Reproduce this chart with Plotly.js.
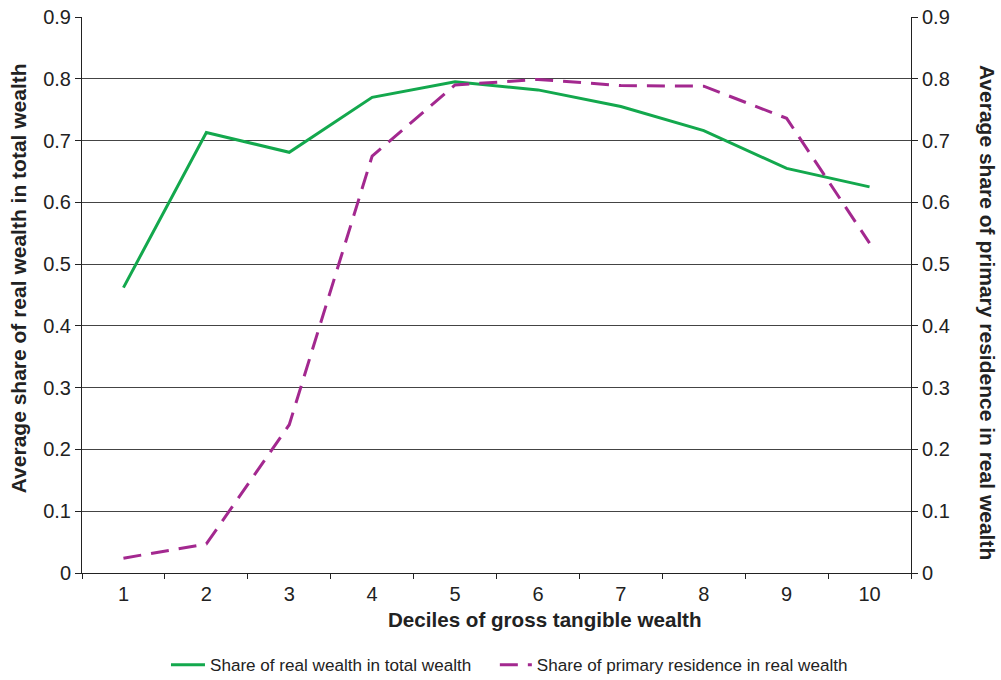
<!DOCTYPE html>
<html>
<head>
<meta charset="utf-8">
<script src="https://cdn.plot.ly/plotly-3.0.1.min.js"></script>
<style>html,body{margin:0;padding:0;background:#fff;}#chart{width:1001px;height:680px;}</style>
</head>
<body>
<div id="chart"></div>
<script>
const deciles = ["1","2","3","4","5","6","7","8","9","10"];
const realShare = [0.462, 0.713, 0.681, 0.770, 0.795, 0.782, 0.755, 0.716, 0.655, 0.625];
const residenceShare = [0.024, 0.047, 0.240, 0.675, 0.790, 0.799, 0.789, 0.788, 0.736, 0.534];
const yTicks = [0, 0.1, 0.2, 0.3, 0.4, 0.5, 0.6, 0.7, 0.8, 0.9];
const yTickText = ["0", "0.1", "0.2", "0.3", "0.4", "0.5", "0.6", "0.7", "0.8", "0.9"];

const font = "Liberation Sans, Arial, sans-serif";
const traces = [
  {x: deciles, y: realShare, type: "scatter", mode: "lines", name: "Share of real wealth in total wealth",
   line: {color: "#13a84d", width: 3}, legend: "legend"},
  {x: deciles, y: residenceShare, type: "scatter", mode: "lines", name: "Share of primary residence in real wealth",
   yaxis: "y2", line: {color: "#a3288f", width: 3, dash: "18px,10px"}, legend: "legend2"}
];
const titleFont = {size: 21, family: font, color: "#222"};
const legendFont = {size: 17.1, family: font, color: "#222"};
const layout = {
  width: 1001, height: 680,
  margin: {l: 82, r: 90, t: 17, b: 107, autoexpand: false},
  paper_bgcolor: "#fff", plot_bgcolor: "#fff",
  font: {family: font, color: "#222", size: 20},
  showlegend: true,
  legend: {orientation: "h", x: 0.1013, xref: "paper", xanchor: "left", yref: "container", y: 0.022, yanchor: "middle",
           font: legendFont, itemwidth: 34},
  legend2: {orientation: "h", x: 0.498, xref: "paper", xanchor: "left", yref: "container", y: 0.022, yanchor: "middle",
           font: legendFont, itemwidth: 32},
  xaxis: {type: "category", range: [-0.5, 9.5], tickson: "boundaries", ticks: "outside", ticklen: 5,
          tickcolor: "#222", showline: true, linecolor: "#222", linewidth: 1, showgrid: false, zeroline: false,
          ticklabelstandoff: 3,
          tickfont: {size: 20, family: font, color: "#222"}},
  yaxis: {range: [0, 0.9], tickvals: yTicks, ticktext: yTickText, ticks: "outside", ticklen: 6, tickcolor: "#222",
          showline: true, linecolor: "#222", linewidth: 1, showgrid: true, gridcolor: "#444", gridwidth: 1,
          zeroline: false, tickfont: {size: 20, family: font, color: "#222"}},
  yaxis2: {range: [0, 0.9], overlaying: "y", side: "right", tickvals: yTicks, ticktext: yTickText,
           ticks: "outside", ticklen: 6, tickcolor: "#222", showline: true, linecolor: "#222", linewidth: 1,
           showgrid: false, zeroline: false, tickfont: {size: 20, family: font, color: "#222"}},
  annotations: [
    {text: "<b>Deciles of gross tangible wealth</b>", xref: "paper", yref: "paper",
     x: 0.5585, y: -0.083, showarrow: false, xanchor: "center", yanchor: "middle",
     font: {size: 20.6, family: font, color: "#222"}},
    {text: "<b>Average share of real wealth in total wealth</b>", xref: "paper", yref: "paper",
     x: -0.0766, y: 0.531, textangle: -90, showarrow: false, xanchor: "center", yanchor: "middle",
     font: titleFont},
    {text: "<b>Average share of primary residence in real wealth</b>", xref: "paper", yref: "paper",
     x: 1.092, y: 0.469, textangle: 90, showarrow: false, xanchor: "center", yanchor: "middle",
     font: titleFont}
  ]
};
Plotly.newPlot("chart", traces, layout, {staticPlot: true, displayModeBar: false});
</script>
</body>
</html>
